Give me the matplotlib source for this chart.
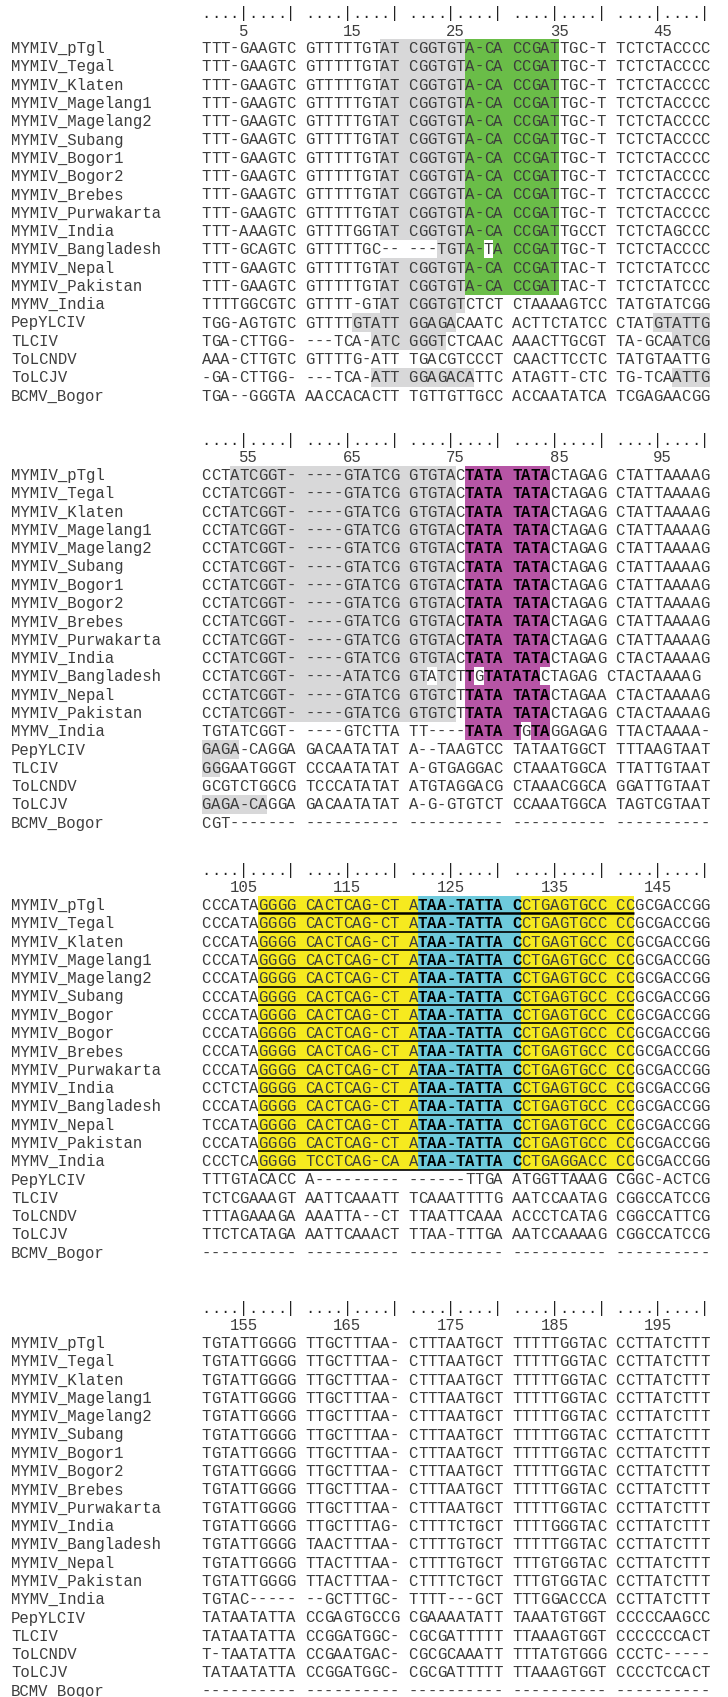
import matplotlib.pyplot as plt
from matplotlib.patches import Rectangle

# ---------------------- alignment data ----------------------

names = [
    "MYMIV_pTgl", "MYMIV_Tegal", "MYMIV_Klaten", "MYMIV_Magelang1",
    "MYMIV_Magelang2", "MYMIV_Subang", "MYMIV_Bogor1", "MYMIV_Bogor2",
    "MYMIV_Brebes", "MYMIV_Purwakarta", "MYMIV_India", "MYMIV_Bangladesh",
    "MYMIV_Nepal", "MYMIV_Pakistan", "MYMV_India", "PepYLCIV", "TLCIV",
    "ToLCNDV", "ToLCJV", "BCMV_Bogor",
]
# the third block of the figure labels both Bogor isolates the same way
names_block3 = names[:6] + ["MYMIV_Bogor", "MYMIV_Bogor"] + names[8:]

seq_1_50 = ["TTT-GAAGTC GTTTTTGTAT CGGTGTA-CA CCGATTGC-T TCTCTACCCC"] * 10 + [
    "TTT-AAAGTC GTTTTGGTAT CGGTGTA-CA CCGATTGCCT TCTCTAGCCC",
    "TTT-GCAGTC GTTTTTGC-- ---TGTA-TA CCGATTGC-T TCTCTACCCC",
    "TTT-GAAGTC GTTTTTGTAT CGGTGTA-CA CCGATTAC-T TCTCTATCCC",
    "TTT-GAAGTC GTTTTTGTAT CGGTGTA-CA CCGATTAC-T TCTCTATCCC",
    "TTTTGGCGTC GTTTT-GTAT CGGTGTCTCT CTAAAAGTCC TATGTATCGG",
    "TGG-AGTGTC GTTTTGTATT GGAGACAATC ACTTCTATCC CTATGTATTG",
    "TGA-CTTGG- ---TCA-ATC GGGTCTCAAC AAACTTGCGT TA-GCAATCG",
    "AAA-CTTGTC GTTTTG-ATT TGACGTCCCT CAACTTCCTC TATGTAATTG",
    "-GA-CTTGG- ---TCA-ATT GGAGACATTC ATAGTT-CTC TG-TCAATTG",
    "TGA--GGGTA AACCACACTT TGTTGTTGCC ACCAATATCA TCGAGAACGG",
]

seq_51_100 = ["CCTATCGGT- ----GTATCG GTGTACTATA TATACTAGAG CTATTAAAAG"] * 10 + [
    "CCTATCGGT- ----GTATCG GTGTACTATA TATACTAGAG CTACTAAAAG",
    "CCTATCGGT- ----ATATCG GTATCTTGTATATACTAGAG CTACTAAAAG",
    "CCTATCGGT- ----GTATCG GTGTCTTATA TATACTAGAA CTACTAAAAG",
    "CCTATCGGT- ----GTATCG GTGTCTTATA TATACTAGAG CTACTAAAAG",
    "TGTATCGGT- ----GTCTTA TT----TATA TGTAGGAGAG TTACTAAAA-",
    "GAGA-CAGGA GACAATATAT A--TAAGTCC TATAATGGCT TTTAAGTAAT",
    "GGGAATGGGT CCCAATATAT A-GTGAGGAC CTAAATGGCA TTATTGTAAT",
    "GCGTCTGGCG TCCCATATAT ATGTAGGACG CTAAACGGCA GGATTGTAAT",
    "GAGA-CAGGA GACAATATAT A-G-GTGTCT CCAAATGGCA TAGTCGTAAT",
    "CGT------- ---------- ---------- ---------- ----------",
]

seq_101_150 = ["CCCATAGGGG CACTCAG-CT ATAA-TATTA CCTGAGTGCC CCGCGACCGG"] * 10 + [
    "CCTCTAGGGG CACTCAG-CT ATAA-TATTA CCTGAGTGCC CCGCGACCGG",
    "CCCATAGGGG CACTCAG-CT ATAA-TATTA CCTGAGTGCC CCGCGACCGG",
    "TCCATAGGGG CACTCAG-CT ATAA-TATTA CCTGAGTGCC CCGCGACCGG",
    "CCCATAGGGG CACTCAG-CT ATAA-TATTA CCTGAGTGCC CCGCGACCGG",
    "CCCTCAGGGG TCCTCAG-CA ATAA-TATTA CCTGAGGACC CCGCGACCGG",
    "TTTGTACACC A--------- ------TTGA ATGGTTAAAG CGGC-ACTCG",
    "TCTCGAAAGT AATTCAAATT TCAAATTTTG AATCCAATAG CGGCCATCCG",
    "TTTAGAAAGA AAATTA--CT TTAATTCAAA ACCCTCATAG CGGCCATTCG",
    "TTCTCATAGA AATTCAAACT TTAA-TTTGA AATCCAAAAG CGGCCATCCG",
    "---------- ---------- ---------- ---------- ----------",
]

seq_151_200 = ["TGTATTGGGG TTGCTTTAA- CTTTAATGCT TTTTTGGTAC CCTTATCTTT"] * 10 + [
    "TGTATTGGGG TTGCTTTAG- CTTTTCTGCT TTTTGGGTAC CCTTATCTTT",
    "TGTATTGGGG TAACTTTAA- CTTTTGTGCT TTTTTGGTAC CCTTATCTTT",
    "TGTATTGGGG TTACTTTAA- CTTTTGTGCT TTTGTGGTAC CCTTATCTTT",
    "TGTATTGGGG TTACTTTAA- CTTTTCTGCT TTTGTGGTAC CCTTATCTTT",
    "TGTAC----- --GCTTTGC- TTTT---GCT TTTGGACCCA CCTTATCTTT",
    "TATAATATTA CCGAGTGCCG CGAAAATATT TAAATGTGGT CCCCCAAGCC",
    "TATAATATTA CCGGATGGC- CGCGATTTTT TTAAAGTGGT CCCCCCCACT",
    "T-TAATATTA CCGAATGAC- CGCGCAAATT TTTATGTGGG CCCTC-----",
    "TATAATATTA CCGGATGGC- CGCGATTTTT TTAAAGTGGT CCCCTCCACT",
    "---------- ---------- ---------- ---------- ----------",
]

block_seqs = [seq_1_50, seq_51_100, seq_101_150, seq_151_200]
block_names = [names, names, names_block3, names]
block_start = [1, 51, 101, 151]

# shading: (row indices, first column, last column, colour key)
MYMIV_MAIN = list(range(11)) + [12, 13]
shade_1_50 = [
    (MYMIV_MAIN, 19, 26, "grey"), (MYMIV_MAIN, 27, 35, "green"),
    ([11], 24, 26, "grey"), ([11], 27, 28, "green"), ([11], 30, 35, "green"),
    ([14], 19, 26, "grey"),
    ([15], 16, 25, "grey"), ([15], 45, 50, "grey"),
    ([16], 18, 24, "grey"), ([16], 47, 50, "grey"),
    ([18], 18, 27, "grey"), ([18], 47, 50, "grey"),
]
shade_51_100 = [
    (MYMIV_MAIN, 54, 75, "grey"), (MYMIV_MAIN, 77, 84, "magenta"),
    ([11], 54, 72, "grey"), ([11], 74, 75, "grey"),
    ([11], 77, 77, "magenta"), ([11], 79, 84, "magenta"),
    ([14], 77, 81, "magenta"), ([14], 83, 84, "magenta"),
    ([15], 51, 54, "grey"), ([16], 51, 52, "grey"), ([18], 51, 57, "grey"),
]
shade_101_150 = [
    (list(range(15)), 107, 121, "yellow"),
    (list(range(15)), 122, 131, "cyan"),
    (list(range(15)), 132, 142, "yellow"),
]
block_shades = [shade_1_50, shade_51_100, shade_101_150, []]
# underlined stretch in the third block: (rows, first column, last column)
block_underline = [None, None, (list(range(15)), 107, 142), None]

COLORS = {
    "grey": "#d8d8d9",
    "green": "#6abd48",
    "magenta": "#b655a5",
    "yellow": "#f6ea1f",
    "cyan": "#6ecadc",
}
BOLD_KEYS = ("magenta", "cyan")

# ---------------------- layout ----------------------

W, H = 728, 1697
X0 = 201.5          # left edge of first sequence cell (px)
CW = 9.41           # monospace cell width (px)
NAME_X = 11
ROW_H = 18.3
ROW1_Y = [48, 475, 905, 1343]
FONT = "Liberation Mono"
FSIZE = CW / 0.6 * 72 / 100
TXT = "#3d3d3d"


def col_index(row_text, col):
    """display index of the col-th residue (1-based) in a row string"""
    n = 0
    for i, ch in enumerate(row_text):
        if ch != " ":
            n += 1
            if n == col:
                return i
    return len(row_text) - 1


fig = plt.figure(figsize=(W / 100, H / 100), dpi=100)
ax = fig.add_axes([0, 0, 1, 1])
ax.set_xlim(0, W)
ax.set_ylim(H, 0)
ax.axis("off")

for b, seqs in enumerate(block_seqs):
    y1 = ROW1_Y[b]
    start = block_start[b]

    # ruler
    ruler = " ".join(["....|....|"] * 5)
    for i, ch in enumerate(ruler):
        if ch != " ":
            ax.text(X0 + (i + 0.5) * CW, y1 - 30, ch, family=FONT, size=FSIZE,
                    color="#222222", ha="center", va="baseline")
    for g in range(5):
        label = str(start + 10 * g + 4)
        idx = 11 * g + 4 + (0.5 if len(label) % 2 == 0 else 0)
        ax.text(X0 + (idx + 0.5) * CW, y1 - 12.5, label, family=FONT, size=FSIZE,
                color=TXT, ha="center", va="baseline")

    # shading and bold flags
    bold = [set() for _ in seqs]
    for rows, c0, c1, key in block_shades[b]:
        for r in rows:
            i0 = col_index(seqs[r], c0 - start + 1)
            i1 = col_index(seqs[r], c1 - start + 1)
            y = y1 + r * ROW_H
            ax.add_patch(Rectangle((X0 + i0 * CW, y - ROW_H / 2), (i1 - i0 + 1) * CW,
                                   ROW_H, facecolor=COLORS[key], edgecolor="none",
                                   zorder=1))
            if key in BOLD_KEYS:
                bold[r].update(range(i0, i1 + 1))

    ul = block_underline[b]
    if ul is not None:
        rows, c0, c1 = ul
        for r in rows:
            i0 = col_index(seqs[r], c0 - start + 1)
            i1 = col_index(seqs[r], c1 - start + 1)
            y = y1 + r * ROW_H + ROW_H / 2 - 0.8
            ax.plot([X0 + i0 * CW, X0 + (i1 + 1) * CW], [y, y], color="black",
                    lw=1.2 if r else 1.8, solid_capstyle="butt", zorder=3)

    # names and residues
    for r, (name, row_text) in enumerate(zip(block_names[b], seqs)):
        y = y1 + r * ROW_H
        ax.text(NAME_X, y + 5, name, family=FONT, size=FSIZE, color=TXT,
                ha="left", va="baseline", zorder=4)
        for i, ch in enumerate(row_text):
            if ch == " ":
                continue
            is_bold = i in bold[r]
            ax.text(X0 + (i + 0.5) * CW, y + 5, ch, family=FONT, size=FSIZE,
                    color="black" if is_bold else TXT,
                    weight="bold" if is_bold else "normal",
                    ha="center", va="baseline", zorder=4)

fig.savefig("out.png", dpi=100)
